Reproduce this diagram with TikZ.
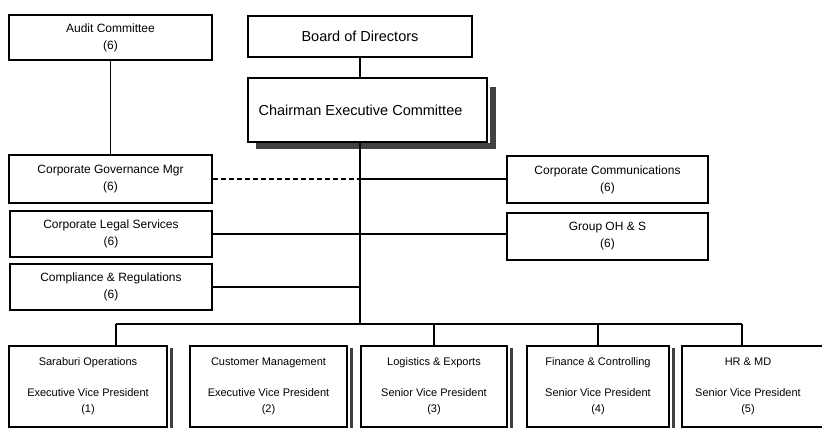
\documentclass[tikz,border=0pt]{standalone}
\usepackage{fontspec}
\setmainfont{Liberation Sans}
\usepackage{tikz}

\begin{document}
\begin{tikzpicture}[x=1pt,y=-1pt,
  unit/.style={draw,line width=1.2pt,rectangle,align=center,inner sep=0pt},
  bigtext/.style={font=\fontsize{14.5}{17}\selectfont},
  midtext/.style={font=\fontsize{12}{17}\selectfont},
  smalltext/.style={font=\fontsize{11}{16}\selectfont},
  link/.style={line width=1.1pt},
  shadowbar/.style={fill=black!75}]
\clip (0,0) rectangle (822,431);
\fill[white] (0,0) rectangle (822,431);

% top of the chart
\node[unit,midtext,minimum width=203pt,minimum height=45pt] (audit) at (110.5,37.5) {Audit Committee\\(6)};
\node[unit,bigtext,minimum width=224pt,minimum height=41pt] (board) at (360,36.5) {Board of Directors};
\node[unit,bigtext,minimum width=239pt,minimum height=64pt] (chair) at (367.5,110) {\hspace*{-14pt}Chairman Executive Committee};
\fill[shadowbar] ([xshift=2pt,yshift=-10pt]chair.north east) rectangle ([xshift=8pt,yshift=-6pt]chair.south east);
\fill[shadowbar] ([xshift=9pt]chair.south west) rectangle ([xshift=8pt,yshift=-6pt]chair.south east);

% staff functions
\node[unit,midtext,minimum width=203pt,minimum height=48pt] (govern) at (110.5,179) {Corporate Governance Mgr\\(6)};
\node[unit,midtext,minimum width=202pt,minimum height=46pt] (legal) at (111,234) {Corporate Legal Services\\(6)};
\node[unit,midtext,minimum width=202pt,minimum height=46pt] (comply) at (111,287) {Compliance \& Regulations\\(6)};
\node[unit,midtext,minimum width=201pt,minimum height=47pt] (comms) at (607.5,179.5) {Corporate Communications\\(6)};
\node[unit,midtext,minimum width=201pt,minimum height=47pt] (ohs) at (607.5,236.5) {Group OH \& S\\(6)};

% business units
\node[unit,smalltext,minimum width=158pt,minimum height=81pt] (sarab) at (88,386.5) {Saraburi Operations\\[15pt]Executive Vice President\\(1)};
\node[unit,smalltext,minimum width=157pt,minimum height=81pt] (custm) at (268.5,386.5) {Customer Management\\[15pt]Executive Vice President\\(2)};
\node[unit,smalltext,minimum width=146pt,minimum height=81pt] (logis) at (434,386.5) {Logistics \& Exports\\[15pt]Senior Vice President\\(3)};
\node[unit,smalltext,minimum width=142pt,minimum height=81pt] (fin) at (598,386.5) {Finance \& Controlling\\[15pt]Senior Vice President\\(4)};
\node[unit,smalltext,minimum width=148pt,minimum height=81pt] (hr) at (756,386.5) {\hspace*{-16pt}HR \& MD\\[15pt]\hspace*{-16pt}Senior Vice President\\\hspace*{-16pt}(5)};
\foreach \b in {sarab,custm,logis,fin}
  \fill[shadowbar] ([xshift=2pt,yshift=-3pt]\b.north east) rectangle ([xshift=5pt]\b.south east);

% connectors
\coordinate (busL) at (116,324);
\coordinate (busR) at (742,324);
\draw[link] (audit.south) -- (govern.north);
\draw[link] (board.south) -- (board.south |- chair.north);
\draw[link] (board.south |- chair.south) -- (board.south |- busL);
\draw[link,dash pattern=on 5pt off 3pt] (govern.east) -- (govern.east -| board.south);
\draw[link] (govern.east -| board.south) -- (govern.east -| comms.west);
\draw[link] (legal.east) -- (legal.east -| ohs.west);
\draw[link] (comply.east) -- (comply.east -| board.south);
\draw[link] (busL) -- (busR);
\draw[link] (busL) -- (busL |- sarab.north);
\draw[link] (logis.north |- busL) -- (logis.north);
\draw[link] (fin.north |- busL) -- (fin.north);
\draw[link] (busR) -- (busR |- hr.north);
\end{tikzpicture}
\end{document}
